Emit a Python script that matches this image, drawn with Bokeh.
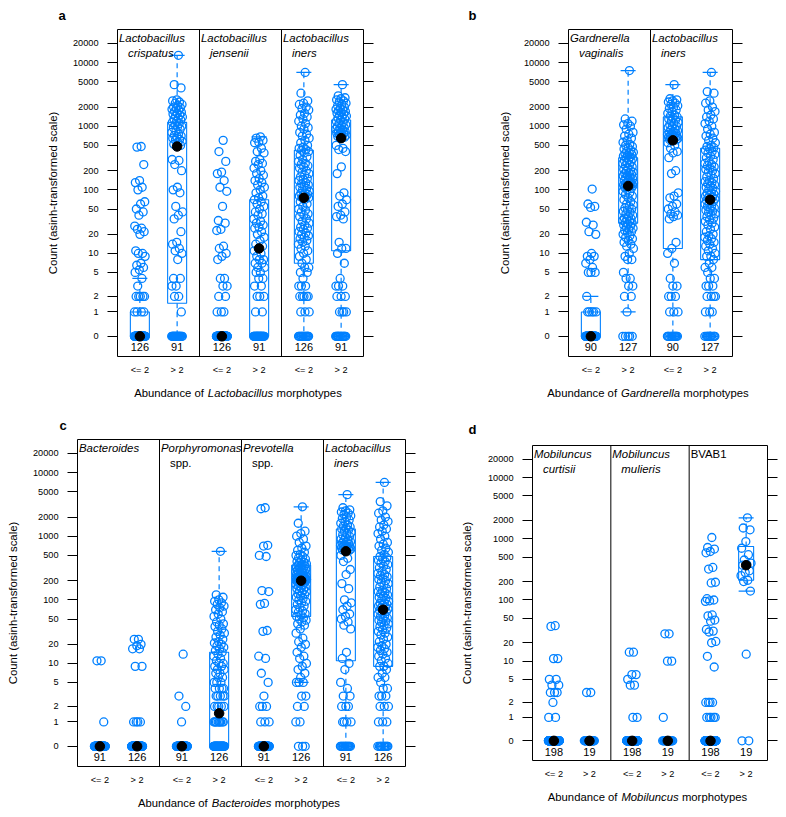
import numpy as np
from bokeh.plotting import figure
from bokeh.layouts import column, row
from bokeh.models import Range1d, FixedTicker, LinearAxis, Label, ColumnDataSource, Span, Title
from bokeh.embed import file_html
from bokeh.resources import INLINE
from bokeh.core.properties import value

FONT = "Liberation Sans"
BLUE = "#0080ff"

TICK_VALUES = [0, 1, 2, 5, 10, 20, 50, 100, 200, 500, 1000, 2000, 5000, 10000, 20000]
GROUP_LABELS = ["<= 2", "> 2"]
Y_TITLE = "Count (asinh-transformed scale)"

# ---------------- panel a : Lactobacillus morphotypes ----------------
A_GENUS = "Lactobacillus"
A_STRIPS = [[("Lactobacillus", "italic"), ("crispatus", "italic")],
            [("Lactobacillus", "italic"), ("jensenii", "italic")],
            [("Lactobacillus", "italic"), ("iners", "italic")]]
A_N = [126, 91, 126, 91, 126, 91]
A_Q1 = [0, 1.5, 0, 0, 7, 11]
A_MED = [0, 480, 0, 12, 75, 650]
A_Q3 = [1, 1150, 0, 70, 420, 1250]
A_LO = [0, 0, 0, 0, 0, 0]
A_HI = [4, 13000, 0, 680, 7000, 4500]
a_crispatus_le2 = [480, 470, 250, 140, 130, 110, 100, 65, 60, 50, 45, 40, 27, 25, 24, 22, 20, 11, 10, 10,
                   9, 7, 6.5, 6, 5.5, 5, 4, 3, 2, 2, 2, 2, 2, 1, 1, 1, 1]
a_crispatus_gt2 = [13000, 4500, 4000, 2600, 2500, 2400, 2300, 2200, 2100, 2000, 1950, 1900, 1850, 1800, 1700,
                   1650, 1600, 1550, 1500, 1450, 1400, 1350, 1300, 1250, 1200, 1150, 1100, 1050, 1000, 980,
                   950, 900, 850, 800, 760, 720, 700, 680, 650, 620, 600, 580, 550, 520, 500, 480, 300, 290,
                   250, 200, 110, 100, 90, 55, 45, 40, 35, 22, 15, 14, 12, 11, 10, 8, 4, 4, 3, 3, 2, 2, 1]
a_jensenii_le2 = [600, 400, 280, 190, 180, 140, 110, 95, 55, 33, 30, 24, 23, 13, 12, 10, 9, 8, 4, 4, 3, 3,
                  2, 2, 1, 1, 1]
a_jensenii_gt2 = [680, 650, 600, 560, 550, 450, 400, 380, 300, 280, 260, 250, 220, 200, 180, 170, 150, 140,
                  130, 120, 110, 100, 90, 80, 75, 70, 65, 60, 55, 50, 45, 42, 40, 35, 32, 30, 28, 26, 25, 22,
                  20, 18, 16, 14, 13, 12, 11, 10, 9, 8, 8, 7, 7, 6, 6, 5, 5, 4, 4, 3, 3, 2, 2, 2, 1, 1]
a_iners_le2 = [7000, 3300, 2500, 2300, 2200, 2000, 1900, 1800, 1600, 1500, 1400, 1300, 1200, 1100, 1000,
               950, 900, 800, 750, 700, 650, 600, 550, 500, 470, 450, 430, 420, 400, 380, 350, 330, 300,
               280, 260, 250, 240, 230, 220, 200, 190, 180, 170, 160, 150, 145, 140, 130, 125, 120, 115,
               110, 105, 100, 95, 90, 88, 85, 82, 80, 78, 76, 75, 70, 65, 60, 55, 50, 48, 45, 42, 40, 38,
               35, 32, 30, 28, 26, 25, 24, 22, 21, 20, 19, 18, 17, 16, 15, 14, 13, 12, 11, 10, 9, 8, 7, 6,
               6, 5, 5, 4, 3, 3, 3, 2, 2, 2, 2, 2, 1, 1, 1]
a_iners_gt2 = [4500, 3000, 2800, 2700, 2600, 2500, 2400, 2300, 2200, 2100, 2000, 1900, 1850, 1800, 1750,
               1700, 1650, 1600, 1550, 1500, 1450, 1400, 1350, 1300, 1250, 1200, 1150, 1100, 1050, 1000,
               980, 950, 920, 900, 880, 850, 820, 800, 780, 760, 740, 720, 700, 690, 670, 650, 500, 450,
               430, 400, 230, 180, 90, 80, 70, 60, 55, 45, 40, 38, 35, 15, 12, 12, 10, 7, 4, 3, 3, 3, 2,
               2, 2, 1, 1, 1, 1]

# ---------------- panel b : Gardnerella morphotypes ----------------
B_GENUS = "Gardnerella"
B_STRIPS = [[("Gardnerella", "italic"), ("vaginalis", "italic")],
            [("Lactobacillus", "italic"), ("iners", "italic")]]
B_N = [90, 127, 90, 127]
B_Q1 = [0, 30, 12, 8]
B_MED = [0, 115, 600, 70]
B_Q3 = [1, 320, 1400, 450]
B_LO = [0, 1, 0, 0]
B_HI = [2, 7500, 4500, 7000]
b_gardnerella_le2 = [103, 60, 55, 53, 31, 28, 22, 20, 10, 9, 9, 8, 7, 6, 5, 5, 5, 2, 1, 1, 1, 1, 1]
b_gardnerella_gt2 = [7500, 1300, 1200, 1100, 1050, 1000, 900, 800, 750, 700, 650, 600, 560, 520, 500, 480,
                     460, 440, 420, 400, 390, 380, 370, 360, 350, 340, 330, 320, 310, 300, 290, 280, 270,
                     260, 250, 240, 230, 220, 210, 200, 195, 190, 185, 180, 175, 170, 165, 160, 155, 150,
                     145, 140, 135, 130, 128, 126, 124, 122, 120, 119, 118, 117, 116, 115, 110, 105, 100,
                     95, 90, 85, 80, 75, 70, 65, 60, 58, 55, 52, 50, 48, 46, 44, 42, 40, 38, 36, 35, 34,
                     33, 32, 31, 30, 29, 28, 27, 26, 25, 24, 23, 22, 21, 20, 19, 18, 17, 16, 15, 14, 13,
                     12, 10, 9, 8, 8, 5, 4, 4, 3, 3, 2, 2, 1]
b_iners_le2 = [4500, 2700, 2600, 2500, 2400, 2300, 2200, 2100, 2000, 1900, 1800, 1700, 1600, 1500, 1450,
               1400, 1350, 1300, 1250, 1200, 1150, 1100, 1050, 1000, 980, 950, 900, 870, 850, 820, 800,
               780, 760, 740, 720, 700, 690, 680, 670, 660, 650, 640, 630, 620, 610, 600, 550, 500, 450,
               400, 380, 320, 200, 180, 90, 80, 75, 60, 55, 50, 45, 42, 40, 38, 35, 15, 12, 10, 7, 4, 3,
               3, 2, 2, 2, 1, 1, 1]
b_iners_gt2 = [7000, 3500, 3300, 2500, 2300, 2000, 1800, 1700, 1500, 1400, 1300, 1200, 1100, 1000, 900,
               800, 750, 700, 650, 600, 550, 500, 480, 460, 440, 420, 400, 380, 360, 340, 320, 300, 280,
               260, 250, 240, 230, 220, 210, 200, 190, 180, 170, 160, 150, 140, 135, 130, 125, 120, 115,
               110, 105, 100, 95, 90, 88, 85, 82, 80, 77, 75, 72, 70, 68, 65, 62, 60, 57, 55, 52, 50, 48,
               46, 44, 42, 40, 38, 36, 34, 32, 30, 28, 26, 24, 22, 20, 19, 18, 17, 16, 15, 14, 13, 12, 11,
               10, 9, 9, 8, 7, 6, 6, 5, 4, 4, 3, 3, 3, 2, 2, 2, 2, 1, 1, 1]

# ---------------- panel c : Bacteroides morphotypes ----------------
C_GENUS = "Bacteroides"
C_STRIPS = [[("Bacteroides", "italic")],
            [("Porphyromonas", "italic"), ("spp.", "normal")],
            [("Prevotella", "italic"), ("spp.", "normal")],
            [("Lactobacillus", "italic"), ("iners", "italic")]]
C_N = [91, 126, 91, 126, 91, 126, 91, 126]
C_Q1 = [0, 0, 0, 0, 0, 55, 11, 9]
C_MED = [0, 0, 0, 1.5, 0, 200, 580, 70]
C_Q3 = [0, 0, 0, 15, 0, 350, 1300, 480]
C_LO = [0, 0, 0, 0, 0, 5, 0, 0]
C_HI = [0, 0, 0, 580, 0, 2900, 4500, 7000]
c_bacteroides_le2 = [11, 11, 1]
c_bacteroides_gt2 = [24, 24, 20, 19, 17, 17, 9, 9, 1, 1, 1, 1]
c_porphyromonas_le2 = [14, 3, 2, 1]
c_porphyromonas_gt2 = [580, 120, 110, 100, 95, 90, 85, 80, 75, 70, 65, 60, 55, 50, 45, 42, 40, 38, 35, 32,
                       30, 28, 26, 24, 22, 21, 20, 19, 18, 17, 16, 15, 14, 13, 12, 11, 10, 10, 9, 9, 8, 8,
                       7, 7, 6, 6, 5, 5, 5, 4, 4, 4, 4, 3, 3, 3, 3, 3, 2, 2, 2, 2, 2,
                       1, 1, 1, 1, 1, 1, 1, 1, 1, 1]
c_prevotella_le2 = [2800, 2700, 720, 700, 500, 480, 140, 135, 88, 85, 33, 32, 13, 12, 7, 5, 3, 2, 2, 2, 1, 1, 1]
c_prevotella_gt2 = [2900, 1600, 1200, 1100, 1000, 900, 800, 700, 650, 600, 560, 520, 500, 480, 460, 440, 420,
                    400, 390, 380, 370, 360, 350, 345, 340, 330, 320, 310, 300, 295, 290, 285, 280, 275, 270,
                    265, 260, 255, 250, 245, 240, 235, 230, 228, 226, 224, 222, 220, 218, 216, 214, 212,
                    210, 209, 208, 207, 206, 205, 204, 203, 202, 201, 200, 195, 190, 185, 180, 175, 170,
                    165, 160, 155, 150, 145, 140, 135, 130, 125, 120, 115, 110, 105, 100, 95, 90, 85, 80,
                    75, 70, 67, 64, 61, 58, 55, 52, 50, 48, 45, 42, 40, 35, 30, 25, 22, 20, 18, 15, 13, 12,
                    10, 9, 8, 7, 6, 5, 5, 5, 3, 3, 2, 2, 1, 1]
c_iners_le2 = [4500, 2800, 2600, 2500, 2400, 2300, 2200, 2100, 2000, 1900, 1800, 1700, 1600, 1500, 1450,
               1400, 1350, 1300, 1250, 1200, 1150, 1100, 1050, 1000, 950, 900, 870, 850, 820, 800, 780, 760,
               740, 720, 700, 690, 680, 670, 660, 650, 640, 630, 620, 610, 600, 580, 500, 450, 400, 300,
               250, 180, 150, 100, 90, 80, 70, 60, 55, 50, 45, 40, 35, 15, 12, 10, 8, 5, 4, 3, 3, 2, 2, 2,
               1, 1, 1, 1]
c_iners_gt2 = [7000, 3500, 3000, 2500, 2300, 2000, 1800, 1700, 1500, 1400, 1300, 1200, 1100, 1000, 900,
               800, 750, 700, 650, 600, 560, 520, 480, 460, 440, 420, 400, 380, 360, 340, 320, 300, 280,
               260, 250, 240, 230, 220, 210, 200, 190, 180, 170, 160, 150, 140, 135, 130, 125, 120, 115,
               110, 105, 100, 95, 90, 88, 85, 82, 80, 77, 75, 72, 70, 68, 65, 62, 60, 57, 55, 52, 50, 48,
               46, 44, 42, 40, 38, 36, 34, 32, 30, 28, 26, 24, 22, 20, 19, 18, 17, 16, 15, 14, 13, 12, 11,
               10, 9, 9, 8, 7, 6, 6, 5, 4, 4, 3, 3, 3, 2, 2, 2, 1, 1, 1]

# ---------------- panel d : Mobiluncus morphotypes ----------------
D_GENUS = "Mobiluncus"
D_STRIPS = [[("Mobiluncus", "italic"), ("curtisii", "italic")],
            [("Mobiluncus", "italic"), ("mulieris", "italic")],
            [("BVAB1", "normal")]]
D_N = [198, 19, 198, 19, 198, 19]
D_Q1 = [0, 0, 0, 0, 0, 210]
D_MED = [0, 0, 0, 0, 0, 370]
D_Q3 = [0, 0, 0, 0, 0, 750]
D_LO = [0, 0, 0, 0, 0, 140]
D_HI = [0, 0, 0, 0, 0, 2200]
d_curtisii_le2 = [38, 37, 11, 11, 5, 5, 4, 4, 3, 3, 3, 2, 1, 1]
d_curtisii_gt2 = [3, 3]
d_mulieris_le2 = [14, 14, 6, 6, 5, 4, 4, 1, 1]
d_mulieris_gt2 = [28, 28, 10, 10, 1]
d_bvab1_le2 = [1050, 720, 680, 620, 590, 340, 320, 195, 190, 105, 100, 97, 95, 57, 55, 47, 45, 33, 31, 30,
               21, 20, 12, 8, 2, 2, 2, 2, 1, 1, 1, 1, 1]
d_bvab1_gt2 = [2200, 1500, 1400, 900, 700, 550, 450, 400, 380, 370, 300, 280, 250, 210, 200, 140, 13]

# ---------------- layout (pixels) ----------------
GEO = {
    "a": dict(W=440, H=410, bl=117, br=77, bt=29, bb=54, box=19, ymin=-0.73, ymax=11.10, loff=-59, lso=12,
              yso=11),
    "b": dict(W=346, H=410, bl=128, br=54, bt=29, bb=54, box=19, ymin=-0.73, ymax=11.10, loff=-100, lso=12,
              yso=10),
    "c": dict(W=440, H=406, bl=77, br=35, bt=29, bb=50, box=19, ymin=-0.73, ymax=11.10, loff=-18, lso=12,
              yso=11),
    "d": dict(W=346, H=406, bl=92, br=19, bt=35, bb=56, box=15, ymin=-0.74, ymax=11.11, loff=-64, lso=15,
              yso=12),
}

ARIAL_W = {' ': 278, 'A': 667, 'B': 667, 'G': 778, 'L': 556, 'M': 833, 'a': 556, 'b': 556, 'c': 500,
           'd': 556, 'e': 556, 'f': 278, 'g': 556, 'h': 556, 'i': 222, 'l': 222, 'm': 833, 'n': 556,
           'o': 556, 'p': 556, 'r': 333, 's': 500, 't': 278, 'u': 556, 'v': 500, 'y': 500}


def tw(s, fs):
    return sum(ARIAL_W.get(ch, 556) for ch in s) * fs / 1000.0


def asinh(v):
    return float(np.arcsinh(v))


def build_panel(letter, genus, strips, n_list, q1, med, q3, lo, hi, groups):
    g = GEO[letter]
    ns = len(strips)
    xmax = 2.2 * ns
    fw = g["W"] - g["bl"] - g["br"]
    fh = g["H"] - g["bt"] - g["bb"]
    ppx = fw / xmax
    ppy = fh / (g["ymax"] - g["ymin"])
    ymin, ymax = g["ymin"], g["ymax"]

    p = figure(width=g["W"], height=g["H"], x_range=Range1d(0, xmax), y_range=Range1d(ymin, ymax),
               min_border_left=g["bl"], min_border_right=g["br"], min_border_top=g["bt"],
               min_border_bottom=g["bb"], toolbar_location=None, output_backend="svg", title=None)
    p.grid.visible = False
    p.outline_line_color = "black"
    p.outline_line_width = 1
    p.outline_line_alpha = 1
    p.background_fill_color = "white"
    p.border_fill_color = "white"

    yt = [round(asinh(v), 6) for v in TICK_VALUES]
    centers = [round(2.2 * k + 0.6 + j, 4) for k in range(ns) for j in (0, 1)]

    # left axis with title
    ax = p.yaxis[0]
    ax.ticker = FixedTicker(ticks=yt)
    ax.major_label_overrides = {t: str(v) for t, v in zip(yt, TICK_VALUES)}
    ax.major_tick_out = 10
    ax.major_tick_in = 0
    ax.minor_tick_out = 0
    ax.minor_tick_in = 0
    ax.axis_line_color = None
    ax.major_tick_line_color = "black"
    ax.major_label_standoff = 9
    ax.major_label_text_font = FONT
    ax.major_label_text_font_size = "9.2px"
    ax.major_label_text_color = "black"
    ax.axis_label = Y_TITLE
    ax.axis_label_text_font = FONT
    ax.axis_label_text_font_style = "normal"
    ax.axis_label_text_font_size = "11.4px"
    ax.axis_label_text_color = "black"
    ax.axis_label_standoff = g["yso"]

    # right axis (ticks only)
    ra = LinearAxis(ticker=FixedTicker(ticks=yt), major_label_overrides={t: "" for t in yt},
                    major_tick_out=10, major_tick_in=0, minor_tick_out=0, minor_tick_in=0,
                    axis_line_color=None, major_tick_line_color="black", major_label_standoff=0,
                    major_label_text_font_size="1px")
    p.add_layout(ra, "right")

    # bottom axis: group labels
    bx = p.xaxis[0]
    bx.ticker = FixedTicker(ticks=centers)
    bx.major_label_overrides = {c: GROUP_LABELS[i % 2] for i, c in enumerate(centers)}
    bx.major_tick_out = 0
    bx.major_tick_in = 0
    bx.minor_tick_out = 0
    bx.minor_tick_in = 0
    bx.axis_line_color = None
    bx.major_label_standoff = 8
    bx.major_label_text_font = FONT
    bx.major_label_text_font_size = "9.2px"
    bx.major_label_text_color = "black"

    # second bottom axis: x title "Abundance of <i>genus</i> morphotypes"
    fs = 11.3
    part1, part3 = "Abundance of", "morphotypes"
    total = tw(part1 + " ", fs) + tw(genus, fs) + tw(" " + part3, fs)
    x0 = -total / 2.0
    c1 = x0 + tw(part1, fs) / 2.0 - 3.0
    c3 = x0 + tw(part1 + " " + genus + " ", fs) + tw(part3, fs) / 2.0 - 2.0
    t1 = round(xmax / 2.0 + c1 / ppx, 4)
    t3 = round(xmax / 2.0 + c3 / ppx, 4)
    tx = LinearAxis(ticker=FixedTicker(ticks=[t1, t3]), major_label_overrides={t1: part1, t3: part3},
                    major_tick_out=0, major_tick_in=0, minor_tick_out=0, minor_tick_in=0,
                    axis_line_color=None, major_label_standoff=9,
                    major_label_text_font=FONT, major_label_text_font_size="11.3px",
                    major_label_text_color="black",
                    axis_label=genus, axis_label_text_font=FONT, axis_label_text_font_style="italic",
                    axis_label_text_font_size="11.3px", axis_label_text_color="black",
                    axis_label_standoff=-15)
    p.add_layout(tx, "below")

    # strip separators
    for k in range(1, ns):
        p.add_layout(Span(location=2.2 * k, dimension="height", line_color="black", line_width=1))

    # jittered points
    jit = 5.5 / ppx
    xs, ys = [], []
    for gi, vals in enumerate(groups):
        full = list(vals) + [0] * (n_list[gi] - len(vals))
        for i, v in enumerate(full):
            off = ((i + 1) * 0.6180339887) % 1.0 * 2 - 1
            xs.append(centers[gi] + off * jit)
            ys.append(asinh(v))
    p.scatter(x="x", y="y", source=ColumnDataSource(dict(x=xs, y=ys)), marker="circle", size=8,
              fill_color=None, line_color=BLUE, line_width=1.3)

    # box and whiskers
    hb = g["box"] / 2.0 / ppx
    hc = 7.5 / ppx
    bsrc = ColumnDataSource(dict(
        left=[c - hb for c in centers], right=[c + hb for c in centers],
        bottom=[asinh(v) for v in q1], top=[asinh(v) for v in q3]))
    p.quad(left="left", right="right", bottom="bottom", top="top", source=bsrc,
           fill_color=None, line_color=BLUE, line_width=1.1)
    wx, wy0, wy1 = [], [], []
    for i, c in enumerate(centers):
        if hi[i] > q3[i]:
            wx.append(c); wy0.append(asinh(q3[i])); wy1.append(asinh(hi[i]))
        if lo[i] < q1[i]:
            wx.append(c); wy0.append(asinh(q1[i])); wy1.append(asinh(lo[i]))
    p.segment(x0="x", y0="y0", x1="x", y1="y1", source=ColumnDataSource(dict(x=wx, y0=wy0, y1=wy1)),
              line_color=BLUE, line_width=1.2, line_dash="5 4")
    cx0, cx1, cy = [], [], []
    for i, c in enumerate(centers):
        for v in (lo[i], hi[i]):
            cx0.append(c - hc); cx1.append(c + hc); cy.append(asinh(v))
    p.segment(x0="x0", y0="y", x1="x1", y1="y", source=ColumnDataSource(dict(x0=cx0, x1=cx1, y=cy)),
              line_color=BLUE, line_width=1.2)

    # medians
    p.scatter(x=centers, y=[asinh(v) for v in med], marker="circle", size=9.5,
              fill_color="black", line_color="black")

    # counts
    p.text(x=centers, y=[-11.0 / ppy] * len(centers), text=[str(n) for n in n_list],
           text_font=value(FONT), text_font_size="11px", text_align="center", text_baseline="middle",
           text_color="black")

    # strip labels
    for k, lines in enumerate(strips):
        for li, (txt, style) in enumerate(lines):
            dx = 1.5 if li == 0 else 10.5
            dy = 8.8 if li == 0 else 23.3
            p.add_layout(Label(x=2.2 * k + dx / ppx, y=ymax - dy / ppy, text=txt, text_font=FONT,
                               text_font_style=style, text_font_size="11.4px", text_color="black",
                               text_align="left", text_baseline="alphabetic"))

    # panel letter
    p.add_layout(Title(text=letter, align="left", offset=g["loff"], text_font=FONT,
                       text_font_style="bold", text_font_size="13px", text_color="black",
                       standoff=g["lso"], vertical_align="middle"), "above")
    return p


pa = build_panel("a", A_GENUS, A_STRIPS, A_N, A_Q1, A_MED, A_Q3, A_LO, A_HI,
                 [a_crispatus_le2, a_crispatus_gt2, a_jensenii_le2, a_jensenii_gt2, a_iners_le2, a_iners_gt2])
pb = build_panel("b", B_GENUS, B_STRIPS, B_N, B_Q1, B_MED, B_Q3, B_LO, B_HI,
                 [b_gardnerella_le2, b_gardnerella_gt2, b_iners_le2, b_iners_gt2])
pc = build_panel("c", C_GENUS, C_STRIPS, C_N, C_Q1, C_MED, C_Q3, C_LO, C_HI,
                 [c_bacteroides_le2, c_bacteroides_gt2, c_porphyromonas_le2, c_porphyromonas_gt2,
                  c_prevotella_le2, c_prevotella_gt2, c_iners_le2, c_iners_gt2])
pd_ = build_panel("d", D_GENUS, D_STRIPS, D_N, D_Q1, D_MED, D_Q3, D_LO, D_HI,
                  [d_curtisii_le2, d_curtisii_gt2, d_mulieris_le2, d_mulieris_gt2, d_bvab1_le2, d_bvab1_gt2])

# each figure wrapped on its own so that row layouts do not align their frames
layout = column(row(column(pa), column(pb)), row(column(pc), column(pd_)))
open("out.html", "w").write(file_html(layout, INLINE))
